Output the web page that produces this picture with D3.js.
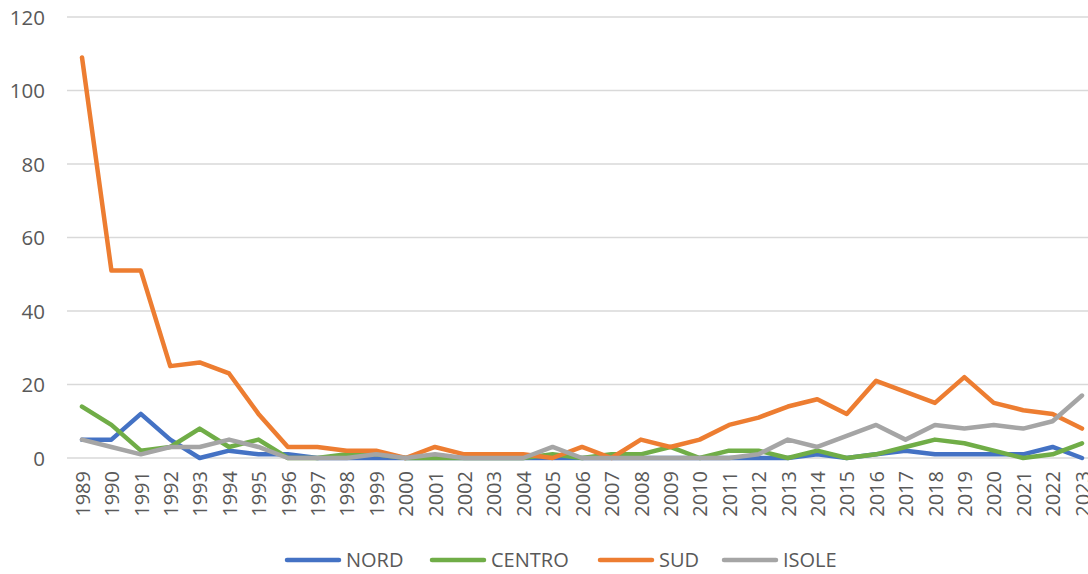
<!DOCTYPE html>
<html><head><meta charset="utf-8">
<script src="https://cdn.jsdelivr.net/npm/d3@7"></script>
<style>body{margin:0;background:#fff}svg{display:block}text{font-family:"Open Sans","Noto Sans",sans-serif;fill:#595959}</style>
</head><body><svg id="c" width="1088" height="574"></svg>
<script>
const years = d3.range(1989, 2024).map(String);
const nord   = [5,5,12,5,0,2,1,1,0,0,0,0,0,0,0,0,0,0,0,0,0,0,0,0,0,1,0,1,2,1,1,1,1,3,0];
const centro = [14,9,2,3,8,3,5,0,0,1,1,0,0,0,0,0,1,0,1,1,3,0,2,2,0,2,0,1,3,5,4,2,0,1,4];
const sud    = [109,51,51,25,26,23,12,3,3,2,2,0,3,1,1,1,0,3,0,5,3,5,9,11,14,16,12,21,18,15,22,15,13,12,8];
const isole  = [5,3,1,3,3,5,3,0,0,0,1,0,1,0,0,0,3,0,0,0,0,0,0,1,5,3,6,9,5,9,8,9,8,10,17];
const seriesNames = ["NORD","CENTRO","SUD","ISOLE"];
const seriesData = [nord, centro, sud, isole];
const colors = ["#4472C4","#70AD47","#ED7D31","#A5A5A5"];
const yTicks = [0,20,40,60,80,100,120];

const svg = d3.select("#c");
const x = d3.scalePoint().domain(years).range([82,1082]);
const y = d3.scaleLinear().domain([0,120]).range([458,17]);

svg.append("g").selectAll("line").data(yTicks).join("line")
  .attr("x1",67).attr("x2",1088).attr("y1",d=>y(d)).attr("y2",d=>y(d))
  .attr("stroke","#d9d9d9").attr("stroke-width",1.3);

const yAxis = d3.axisLeft(y).tickValues(yTicks).tickSize(0).tickPadding(0);
const gy = svg.append("g").attr("transform","translate(45,0)").call(yAxis);
gy.select(".domain").remove();
gy.selectAll("text").style("font-size","20.5px").style("font-family",'"Open Sans","Noto Sans",sans-serif').attr("fill","#595959").attr("dy","0.36em");

const xAxis = d3.axisBottom(x).tickSize(0).tickPadding(0);
const gx = svg.append("g").attr("transform","translate(0,471)").call(xAxis);
gx.select(".domain").remove();
gx.selectAll("text").style("font-size","20px").style("font-family",'"Open Sans","Noto Sans",sans-serif').attr("fill","#595959")
  .attr("text-anchor","end").attr("transform","rotate(-90)").attr("x",0).attr("y",0).attr("dy","0.36em");

const line = d3.line().x((d,i)=>x(years[i])).y(d=>y(d));
seriesData.forEach((s,k)=>{
  svg.append("path").datum(s).attr("d",line).attr("fill","none")
    .attr("stroke",colors[k]).attr("stroke-width",4.5)
    .attr("stroke-linejoin","round").attr("stroke-linecap","round");
});

const legX = [287,432,600,724];
const lg = svg.append("g");
seriesNames.forEach((n,k)=>{
  lg.append("line").attr("x1",legX[k]).attr("x2",legX[k]+52).attr("y1",560).attr("y2",560)
    .attr("stroke",colors[k]).attr("stroke-width",4.5).attr("stroke-linecap","round");
  lg.append("text").attr("x",legX[k]+59).attr("y",560).attr("dy","0.36em")
    .style("font-size","20px").text(n);
});
</script></body></html>
